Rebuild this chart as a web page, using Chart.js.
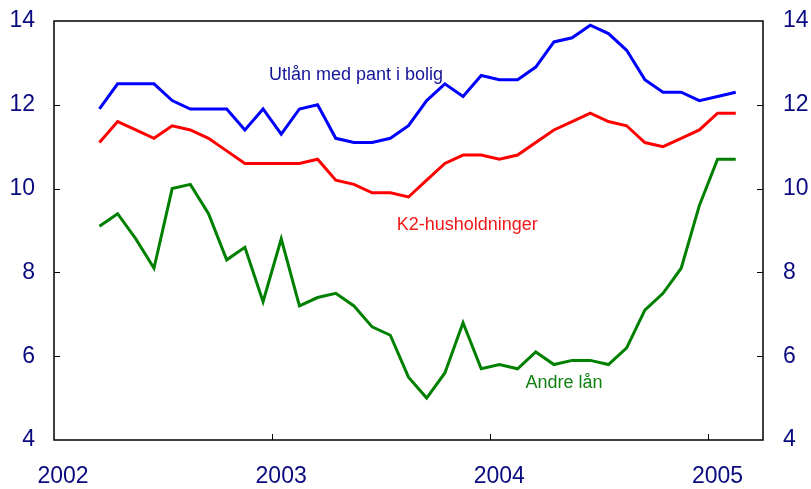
<!DOCTYPE html>
<html>
<head>
<meta charset="utf-8">
<script src="https://cdn.jsdelivr.net/npm/chart.js@4/dist/chart.umd.min.js"></script>
<style>
  html, body { margin: 0; padding: 0; background: #fff; }
  #wrap { width: 811px; height: 489px; }
</style>
</head>
<body>
<div id="wrap"><canvas id="c" width="811" height="489"></canvas></div>
<script>
// Monthly observations, March 2002 - February 2005
const months = [
  "2002-03","2002-04","2002-05","2002-06","2002-07","2002-08","2002-09","2002-10","2002-11","2002-12",
  "2003-01","2003-02","2003-03","2003-04","2003-05","2003-06","2003-07","2003-08","2003-09","2003-10","2003-11","2003-12",
  "2004-01","2004-02","2004-03","2004-04","2004-05","2004-06","2004-07","2004-08","2004-09","2004-10","2004-11","2004-12",
  "2005-01","2005-02"
];
const utlanMedPant = [11.9,12.5,12.5,12.5,12.1,11.9,11.9,11.9,11.4,11.9,11.3,11.9,12.0,11.2,11.1,11.1,11.2,11.5,12.1,12.5,12.2,12.7,12.6,12.6,12.9,13.5,13.6,13.9,13.7,13.3,12.6,12.3,12.3,12.1,12.2,12.3];
const k2Husholdninger = [11.1,11.6,11.4,11.2,11.5,11.4,11.2,10.9,10.6,10.6,10.6,10.6,10.7,10.2,10.1,9.9,9.9,9.8,10.2,10.6,10.8,10.8,10.7,10.8,11.1,11.4,11.6,11.8,11.6,11.5,11.1,11.0,11.2,11.4,11.8,11.8];
const andreLan = [9.1,9.4,8.8,8.1,10.0,10.1,9.4,8.3,8.6,7.3,8.8,7.2,7.4,7.5,7.2,6.7,6.5,5.5,5.0,5.6,6.8,5.7,5.8,5.7,6.1,5.8,5.9,5.9,5.8,6.2,7.1,7.5,8.1,9.6,10.7,10.7];
const yearTicks = [2002, 2003, 2004, 2005];
const yTicks = [4, 6, 8, 10, 12, 14];
const seriesNames = ["Utlån med pant i bolig", "K2-husholdninger", "Andre lån"];

// month label -> fractional year (mid-month)
const xs = months.map(m => { const [y, mo] = m.split("-").map(Number); return y + (mo - 0.5) / 12; });
const toPts = arr => arr.map((v, i) => ({ x: xs[i], y: v }));

const FONT = "'Liberation Sans', Arial, sans-serif";
const AXIS_COLOR = "#0a0a80";

// in-plot series labels, anchored in data coordinates (year, value)
const seriesLabels = [
  { text: seriesNames[0], x: 2002.985, y: 12.59, color: "#14149a" },
  { text: seriesNames[1], x: 2003.571, y: 9.01, color: "#f01818" },
  { text: seriesNames[2], x: 2004.161, y: 5.24, color: "#108010" }
];

const framePlugin = {
  id: "frame",
  afterDatasetsDraw(chart) {
    const { ctx, chartArea: a, scales } = chart;
    ctx.save();
    ctx.strokeStyle = "#000";
    ctx.lineWidth = 1.5;
    ctx.strokeRect(a.left, a.top, a.right - a.left, a.bottom - a.top);
    ctx.lineWidth = 1;
    ctx.beginPath();
    scales.x.ticks.forEach(t => {
      const px = Math.round(scales.x.getPixelForValue(t.value)) + 0.5;
      if (px > a.left + 2 && px < a.right - 2) {
        ctx.moveTo(px, a.bottom); ctx.lineTo(px, a.bottom - 6);
      }
    });
    scales.y.ticks.forEach(t => {
      const py = Math.round(scales.y.getPixelForValue(t.value)) + 0.5;
      if (py > a.top + 2 && py < a.bottom - 2) {
        ctx.moveTo(a.left, py); ctx.lineTo(a.left + 6, py);
        ctx.moveTo(a.right, py); ctx.lineTo(a.right - 6, py);
      }
    });
    ctx.stroke();
    ctx.font = "18px " + FONT;
    ctx.textAlign = "left";
    ctx.textBaseline = "alphabetic";
    seriesLabels.forEach(l => {
      ctx.fillStyle = l.color;
      ctx.fillText(l.text, scales.x.getPixelForValue(l.x), scales.y.getPixelForValue(l.y));
    });
    ctx.restore();
  }
};

const yCommon = {
  type: "linear", min: 4, max: 14,
  grid: { display: false, drawTicks: false },
  border: { display: false },
  afterBuildTicks: s => { s.ticks = yTicks.map(v => ({ value: v })); },
  ticks: { font: { family: FONT, size: 23 }, color: AXIS_COLOR, callback: v => String(v) }
};

new Chart(document.getElementById("c"), {
  type: "line",
  data: {
    datasets: [
      { label: seriesNames[0], data: toPts(utlanMedPant), borderColor: "#0000ff", borderWidth: 3, pointRadius: 0, tension: 0, fill: false },
      { label: seriesNames[1], data: toPts(k2Husholdninger), borderColor: "#ff0000", borderWidth: 3, pointRadius: 0, tension: 0, fill: false },
      { label: seriesNames[2], data: toPts(andreLan), borderColor: "#008000", borderWidth: 3, pointRadius: 0, tension: 0, fill: false }
    ]
  },
  options: {
    responsive: false,
    animation: false,
    layout: { padding: { top: 21, left: 0, right: 0, bottom: 0 } },
    plugins: { legend: { display: false }, tooltip: { enabled: false }, title: { display: false } },
    scales: {
      x: {
        type: "linear", min: 2002, max: 2005.25, position: "bottom",
        grid: { display: false, drawTicks: false },
        border: { display: false },
        afterBuildTicks: s => { s.ticks = yearTicks.map(v => ({ value: v })); },
        afterFit: s => { s.height = 49; s.paddingLeft = 0; s.paddingRight = 0; },
        ticks: { font: { family: FONT, size: 23 }, color: AXIS_COLOR, padding: 23, labelOffset: 9, maxRotation: 0, autoSkip: false, callback: v => String(v) }
      },
      y: Object.assign({}, yCommon, {
        position: "left",
        afterFit: s => { s.width = 54; s.paddingTop = 0; s.paddingBottom = 0; },
        ticks: Object.assign({}, yCommon.ticks, { padding: 19 })
      }),
      y2: Object.assign({}, yCommon, {
        position: "right",
        afterFit: s => { s.width = 48; s.paddingTop = 0; s.paddingBottom = 0; },
        ticks: Object.assign({}, yCommon.ticks, { padding: 20 })
      })
    }
  },
  plugins: [framePlugin]
});
</script>
</body>
</html>
